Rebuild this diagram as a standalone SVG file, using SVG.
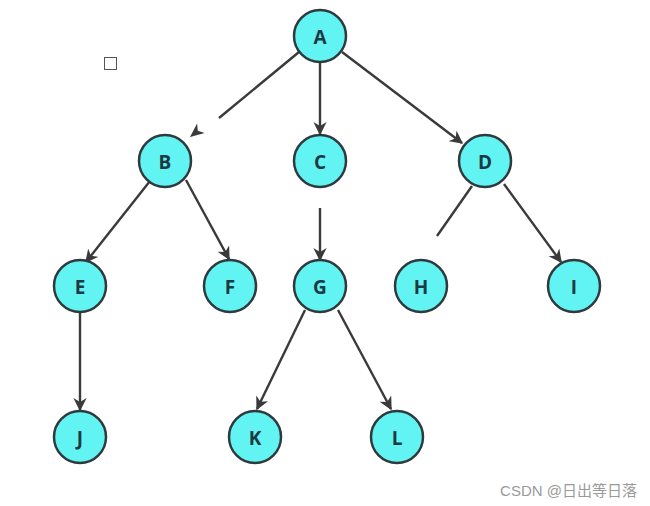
<svg xmlns="http://www.w3.org/2000/svg" width="650" height="506" viewBox="0 0 650 506">
<style>
.node circle{fill:#62f3f3;stroke:#2f3a3c;stroke-width:2.5}
.node text{font-family:"Open Sans","Liberation Sans",sans-serif;font-weight:bold;font-size:19px;fill:#1c3a44;text-anchor:middle;dominant-baseline:central}
.edge{stroke:#3a3a3a;stroke-width:2.4;fill:none}
.ah{fill:#3a3a3a}
</style>
<defs>
<marker id="arr" viewBox="0 0 10 10" refX="9" refY="5" markerWidth="5.5" markerHeight="5.5" orient="auto" markerUnits="strokeWidth">
<path d="M0,0 L10,5 L0,10 L3,5 z" fill="#3a3a3a"/>
</marker>
</defs>
<rect width="650" height="506" fill="#fff"/>
<rect x="104.5" y="57.5" width="12" height="12" fill="none" stroke="#555" stroke-width="1"/>
<g id="connectors">
<line class="edge" x1="299" y1="52" x2="219" y2="118"/>
<path class="ah" d="M190,137 L204.7,132.9 L197.8,130.7 L197.1,123.5 z"/>
<line class="edge" x1="320" y1="62" x2="320" y2="134" marker-end="url(#arr)"/>
<line class="edge" x1="342" y1="52" x2="462" y2="143" marker-end="url(#arr)"/>
<line class="edge" x1="150" y1="181" x2="86" y2="262" marker-end="url(#arr)"/>
<line class="edge" x1="186" y1="180" x2="229" y2="259" marker-end="url(#arr)"/>
<line class="edge" x1="320" y1="208" x2="320" y2="260" marker-end="url(#arr)"/>
<line class="edge" x1="472" y1="186" x2="437" y2="236"/>
<line class="edge" x1="504" y1="184" x2="561" y2="262" marker-end="url(#arr)"/>
<line class="edge" x1="80" y1="312" x2="80" y2="410" marker-end="url(#arr)"/>
<line class="edge" x1="305" y1="310" x2="257" y2="409" marker-end="url(#arr)"/>
<line class="edge" x1="338" y1="310" x2="391" y2="409" marker-end="url(#arr)"/>
</g>
<g id="A" class="node"><circle cx="320" cy="36" r="26"/><text x="320" y="37">A</text></g>
<g id="B" class="node"><circle cx="165" cy="161" r="26"/><text x="165" y="162">B</text></g>
<g id="C" class="node"><circle cx="320" cy="161" r="26"/><text x="320" y="162">C</text></g>
<g id="D" class="node"><circle cx="485" cy="161" r="26"/><text x="485" y="162">D</text></g>
<g id="E" class="node"><circle cx="80" cy="286" r="26"/><text x="80" y="287">E</text></g>
<g id="F" class="node"><circle cx="230" cy="286" r="26"/><text x="230" y="287">F</text></g>
<g id="G" class="node"><circle cx="320" cy="286" r="26"/><text x="320" y="287">G</text></g>
<g id="H" class="node"><circle cx="421" cy="286" r="26"/><text x="421" y="287">H</text></g>
<g id="I" class="node"><circle cx="574" cy="286" r="26"/><text x="574" y="287">I</text></g>
<g id="J" class="node"><circle cx="80" cy="437" r="26"/><text x="80" y="438">J</text></g>
<g id="K" class="node"><circle cx="255" cy="437" r="26"/><text x="255" y="438">K</text></g>
<g id="L" class="node"><circle cx="397" cy="437" r="26"/><text x="397" y="438">L</text></g>
<text x="637" y="496" text-anchor="end" font-family="'Liberation Sans','Noto Sans CJK SC',sans-serif" font-size="15" fill="#9a9a9a">CSDN @日出等日落</text>
</svg>
